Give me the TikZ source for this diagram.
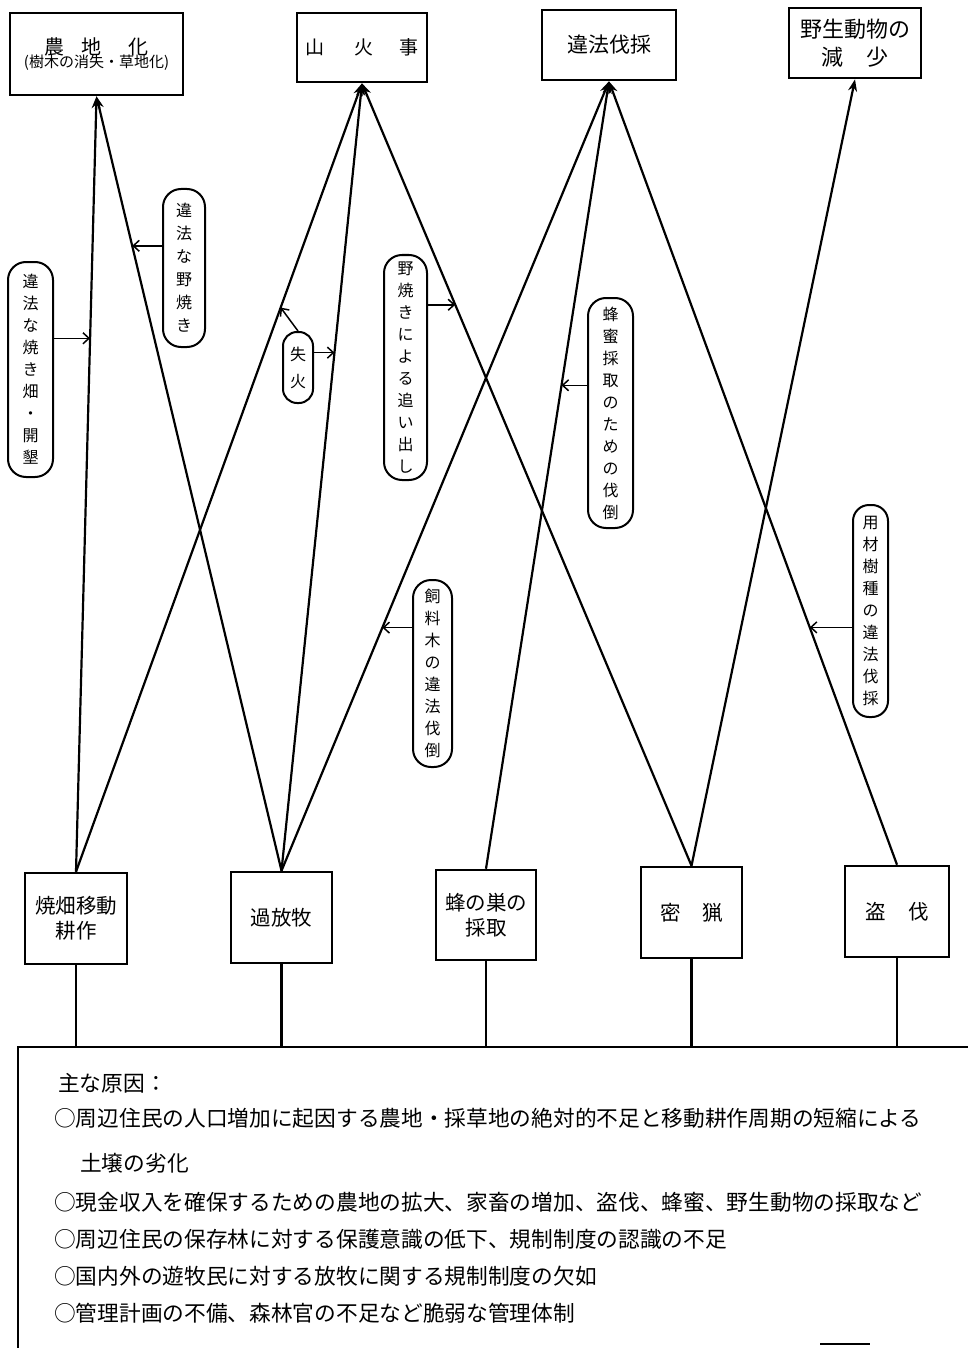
\documentclass[tikz,border=0pt]{standalone}
\usepackage{fontspec}
\setmainfont{Noto Sans CJK JP}
\usetikzlibrary{arrows.meta}
\begin{document}
\begin{tikzpicture}[x=1pt,y=-1pt,
  topbox/.style={draw, line width=2.7pt, inner sep=0pt, align=center},
  botbox/.style={draw, line width=2.5pt, inner sep=0pt, align=center, font=\fontsize{20.5}{25}\selectfont},
  tag/.style={draw, line width=2pt, rounded corners=18pt, inner sep=0pt, align=center, font=\fontsize{16}{22}\selectfont},
  link/.style={line width=2.2pt, -{Stealth[length=12pt,width=9pt]}},
  pointer/.style={line width=1.5pt, -{Straight Barb[length=6pt,width=11pt]}},
  drop/.style={line width=2.5pt},
  summary/.style={anchor=west, inner sep=0pt, font=\fontsize{21.7}{21.7}\selectfont}]
\useasboundingbox (0,0) rectangle (968,1348);

% top boxes
\node[topbox, minimum width=173pt, minimum height=82pt] (t1) at (96.5,54)
  {{\fontsize{20}{20}\selectfont 農\hspace{17pt}地\hspace{27pt}化}\\[-2pt]{\fontsize{15}{15}\selectfont (樹木の消失・草地化)}};
\node[topbox, minimum width=130pt, minimum height=69pt, font=\fontsize{19}{19}\selectfont] (t2) at (362,47.5)
  {山\hspace{30pt}火\hspace{26pt}事};
\node[topbox, minimum width=134pt, minimum height=70pt, font=\fontsize{21}{21}\selectfont] (t3) at (609,45)
  {違法伐採};
\node[topbox, minimum width=132pt, minimum height=70pt, font=\fontsize{22}{28}\selectfont] (t4) at (855,43)
  {野生動物の\\減\hspace{24pt}少};

% bottom boxes
\node[botbox, minimum width=102pt, minimum height=91pt] (b1) at (76,918.5) {焼畑移動\\耕作};
\node[botbox, minimum width=101pt, minimum height=91pt] (b2) at (281.5,917.5) {過放牧};
\node[botbox, minimum width=100pt, minimum height=90pt] (b3) at (486,915) {蜂の巣の\\採取};
\node[botbox, minimum width=101pt, minimum height=91pt] (b4) at (691.5,912.5) {密\hspace{22pt}猟};
\node[botbox, minimum width=104pt, minimum height=91pt] (b5) at (897,911.5) {盗\hspace{22pt}伐};

% connectors
\draw[link] (b1.north) -- coordinate[pos=0.688] (p1) (t1.south);
\draw[link] (b1.north) -- coordinate[pos=0.7156] (p3a) (t2.south);
\draw[link] (b2.north) -- coordinate[pos=0.807] (p2) (t1.south);
\draw[link] (b2.north) -- coordinate[pos=0.658] (p3b) (t2.south);
\draw[link] (b2.north) -- coordinate[pos=0.308] (p6) (t3.south);
\draw[link] (b3.north) -- coordinate[pos=0.614] (p5) (t3.south);
\draw[link] (b4.north) -- coordinate[pos=0.717] (p4) (t2.south);
\draw[link] (b4.north) -- (t4.south);
\draw[link] (b5.north) -- coordinate[pos=0.303] (p7) (t3.south);

% labels
\node[tag, minimum width=45pt, minimum height=215pt] (l1) at (30.5,369.5)
  {違\\法\\な\\焼\\き\\畑\\・\\開\\墾};
\node[tag, minimum width=42pt, minimum height=158pt, font=\fontsize{16}{23}\selectfont] (l2) at (184,268)
  {違\\法\\な\\野\\焼\\き};
\node[tag, minimum width=30pt, minimum height=71pt, rounded corners=14pt, font=\fontsize{16}{27}\selectfont] (l3) at (298,367.5)
  {失\\火};
\node[tag, minimum width=43pt, minimum height=225pt] (l4) at (405.5,367.5)
  {野\\焼\\き\\に\\よ\\る\\追\\い\\出\\し};
\node[tag, minimum width=45pt, minimum height=230pt] (l5) at (610.5,413)
  {蜂\\蜜\\採\\取\\の\\た\\め\\の\\伐\\倒};
\node[tag, minimum width=39pt, minimum height=187pt] (l6) at (432.5,673.5)
  {飼\\料\\木\\の\\違\\法\\伐\\倒};
\node[tag, minimum width=35pt, minimum height=212pt, rounded corners=16pt] (l7) at (870.5,611)
  {用\\材\\樹\\種\\の\\違\\法\\伐\\採};

% label pointers
\draw[pointer] (l1.east |- p1) -- (p1);
\draw[pointer] (l2.west |- p2) -- (p2);
\draw[pointer] (l3.north) -- (p3a);
\draw[pointer] (l3.east |- p3b) -- (p3b);
\draw[pointer] (l4.east |- p4) -- (p4);
\draw[pointer] (l5.west |- p5) -- (p5);
\draw[pointer] (l6.west |- p6) -- (p6);
\draw[pointer] (l7.west |- p7) -- (p7);

% summary frame
\coordinate (base) at (0,1047);
\coordinate (fr) at (968,1047);
\coordinate (fl) at (18,1047);
\coordinate (fb) at (18,1348);
\coordinate (ea) at (820,1344);
\coordinate (eb) at (870,1344);
\draw[drop] (b1.south) -- (b1.south |- base);
\draw[drop] (b2.south) -- (b2.south |- base);
\draw[drop] (b3.south) -- (b3.south |- base);
\draw[drop] (b4.south) -- (b4.south |- base);
\draw[drop] (b5.south) -- (b5.south |- base);
\draw[line width=2.5pt] (fr) -- (fl) -- (fb);
\draw[line width=1.2pt] (ea) -- (eb);

% summary text
\node[summary] (s0) at (58,1083) {主な原因：};
\node[summary] (s1) at (54,1118) {○周辺住民の人口増加に起因する農地・採草地の絶対的不足と移動耕作周期の短縮による};
\node[summary] (s2) at (80,1163) {土壌の劣化};
\node[summary] (s3) at (54,1202) {○現金収入を確保するための農地の拡大、家畜の増加、盗伐、蜂蜜、野生動物の採取など};
\node[summary] (s4) at (54,1239) {○周辺住民の保存林に対する保護意識の低下、規制制度の認識の不足};
\node[summary] (s5) at (54,1276) {○国内外の遊牧民に対する放牧に関する規制制度の欠如};
\node[summary] (s6) at (54,1313) {○管理計画の不備、森林官の不足など脆弱な管理体制};
\end{tikzpicture}
\end{document}
